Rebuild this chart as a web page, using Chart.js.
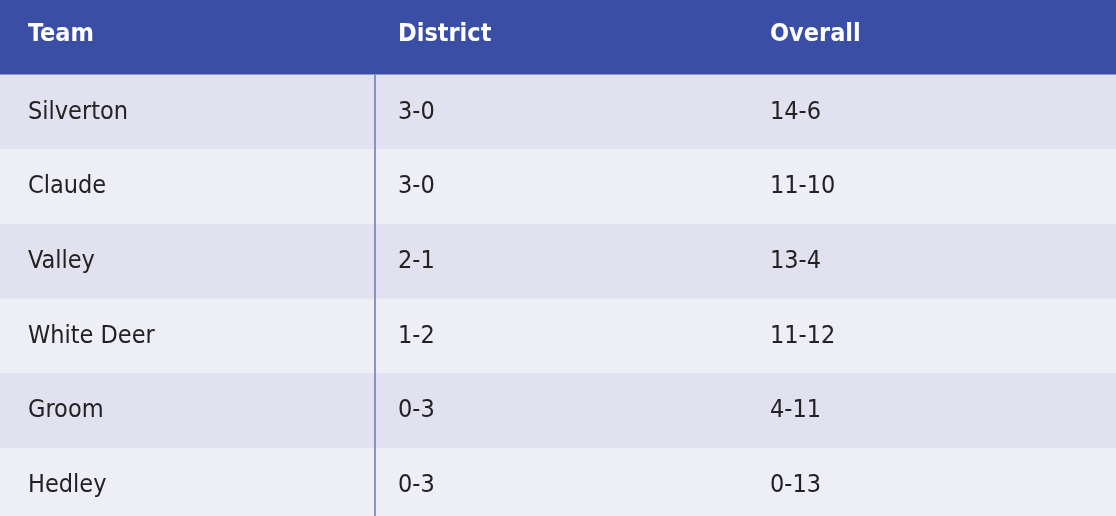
<!DOCTYPE html>
<html>
<head>
<meta charset="utf-8">
<script src="https://cdn.jsdelivr.net/npm/chart.js@4"></script>
<style>
  body { margin: 0; overflow: hidden; background: #fff; }
  #wrap { width: 1116px; height: 523px; position: relative; }
</style>
</head>
<body>
<div id="wrap"><canvas id="table"></canvas></div>
<script>
const headers = ['Team', 'District', 'Overall'];
const teams = ['Silverton', 'Claude', 'Valley', 'White Deer', 'Groom', 'Hedley'];
const district = ['3-0', '3-0', '2-1', '1-2', '0-3', '0-3'];
const overall = ['14-6', '11-10', '13-4', '11-12', '4-11', '0-13'];
const columnX = [28, 398, 770];

const rows = ['header', ...teams];
const rowColors = rows.map((r, i) => i === 0 ? '#3a4ea6' : (i % 2 === 1 ? '#e1e1ef' : '#eeeef6'));

const textPlugin = {
    id: 'cellText',
    afterDatasetsDraw(chart) {
        const ctx = chart.ctx;
        const x = chart.scales.x;
        const y = chart.scales.y;
        ctx.save();
        ctx.textBaseline = 'middle';
        // divider line
        const lineX = x.getPixelForValue(375);
        const top = (y.getPixelForValue(0) + y.getPixelForValue(1)) / 2;
        ctx.strokeStyle = '#6a76b8';
        ctx.lineWidth = 1.5;
        ctx.beginPath();
        ctx.moveTo(lineX, top);
        ctx.lineTo(lineX, chart.height);
        ctx.stroke();

        ctx.font = 'bold 25px "Liberation Sans Narrow", "DejaVu Sans Condensed", sans-serif';
        ctx.fillStyle = '#ffffff';
        headers.forEach((h, c) => ctx.fillText(h, x.getPixelForValue(columnX[c]), y.getPixelForValue(0) - 3));

        ctx.font = '25px "Liberation Sans Narrow", "DejaVu Sans Condensed", sans-serif';
        ctx.fillStyle = '#222222';
        teams.forEach((t, i) => {
            const py = y.getPixelForValue(i + 1);
            ctx.fillText(t, x.getPixelForValue(columnX[0]), py);
            ctx.fillText(district[i], x.getPixelForValue(columnX[1]), py);
            ctx.fillText(overall[i], x.getPixelForValue(columnX[2]), py);
        });
        ctx.restore();
    }
};

new Chart(document.getElementById('table'), {
    type: 'bar',
    data: {
        labels: rows,
        datasets: [{
            data: rows.map(() => 1116),
            backgroundColor: rowColors,
            borderWidth: 0,
            barPercentage: 1,
            categoryPercentage: 1
        }]
    },
    options: {
        indexAxis: 'y',
        responsive: true,
        maintainAspectRatio: false,
        animation: false,
        layout: { padding: 0 },
        plugins: { legend: { display: false }, tooltip: { enabled: false } },
        scales: {
            x: { display: false, min: 0, max: 1116 },
            y: { display: false }
        }
    },
    plugins: [textPlugin]
});
</script>
</body>
</html>
